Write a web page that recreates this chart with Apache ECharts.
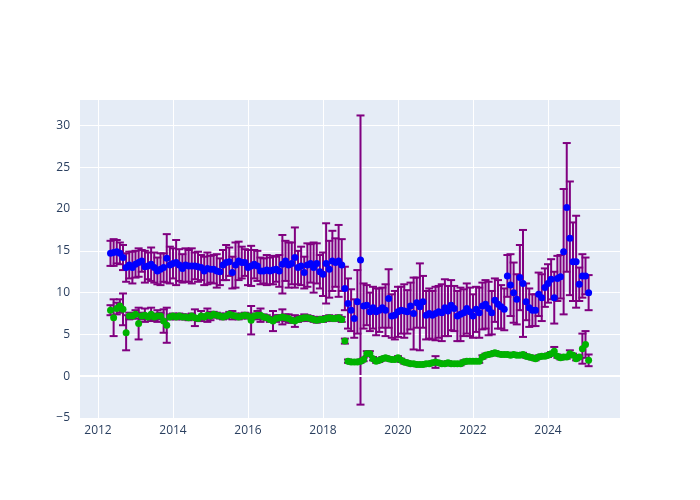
<!DOCTYPE html>
<html><head><meta charset="utf-8">
<script src="https://cdn.jsdelivr.net/npm/echarts@6/dist/echarts.min.js"></script>
<style>html,body{margin:0;padding:0;background:#fff}#chart{width:700px;height:500px}</style>
</head><body><div id="chart"></div>
<script>
const dates = [
"2012-05","2012-06","2012-07","2012-08","2012-09","2012-10","2012-11","2012-12",
"2013-01","2013-02","2013-03","2013-04","2013-05","2013-06","2013-07","2013-08","2013-09","2013-10","2013-11","2013-12",
"2014-01","2014-02","2014-03","2014-04","2014-05","2014-06","2014-07","2014-08","2014-09","2014-10","2014-11","2014-12",
"2015-01","2015-02","2015-03","2015-04","2015-05","2015-06","2015-07","2015-08","2015-09","2015-10","2015-11","2015-12",
"2016-01","2016-02","2016-03","2016-04","2016-05","2016-06","2016-07","2016-08","2016-09","2016-10","2016-11","2016-12",
"2017-01","2017-02","2017-03","2017-04","2017-05","2017-06","2017-07","2017-08","2017-09","2017-10","2017-11","2017-12",
"2018-01","2018-02","2018-03","2018-04","2018-05","2018-06","2018-07","2018-08","2018-09","2018-10","2018-11","2018-12",
"2019-01","2019-02","2019-03","2019-04","2019-05","2019-06","2019-07","2019-08","2019-09","2019-10","2019-11","2019-12",
"2020-01","2020-02","2020-03","2020-04","2020-05","2020-06","2020-07","2020-08","2020-09","2020-10","2020-11","2020-12",
"2021-01","2021-02","2021-03","2021-04","2021-05","2021-06","2021-07","2021-08","2021-09","2021-10","2021-11","2021-12",
"2022-01","2022-02","2022-03","2022-04","2022-05","2022-06","2022-07","2022-08","2022-09","2022-10","2022-11","2022-12",
"2023-01","2023-02","2023-03","2023-04","2023-05","2023-06","2023-07","2023-08","2023-09","2023-10","2023-11","2023-12",
"2024-01","2024-02","2024-03","2024-04","2024-05","2024-06","2024-07","2024-08","2024-09","2024-10","2024-11","2024-12",
"2025-01","2025-02"
];

const blueValues = [
14.7,14.8,14.9,14.7,14.2,13.0,13.3,13.0,13.4,13.6,13.8,13.1,
13.2,13.4,13.0,12.6,12.8,13.0,14.1,13.3,13.5,13.6,13.3,12.9,
13.3,13.2,13.2,13.2,13.1,13.0,12.6,12.9,12.8,12.8,12.6,12.5,
13.3,13.6,13.7,12.4,13.3,13.8,13.6,13.6,13.0,13.2,13.4,13.2,
12.6,12.6,12.7,12.6,12.7,12.8,12.6,13.4,13.8,13.3,13.5,14.2,
13.0,13.2,12.4,13.3,13.5,13.0,13.5,12.5,12.2,13.5,12.8,13.8,
13.6,13.8,13.3,10.5,8.7,7.9,6.9,8.9,13.9,8.4,8.5,7.7,
8.2,7.7,7.9,8.2,7.9,9.3,7.2,7.3,7.7,7.9,7.8,7.7,
8.4,7.5,8.8,8.3,8.9,7.3,7.5,7.3,7.5,7.7,7.6,8.2,
7.8,8.5,8.1,7.2,7.4,7.6,8.1,7.7,7.2,8.0,7.6,8.4,
8.6,8.1,7.6,9.1,8.6,8.3,8.0,12.0,10.9,10.0,9.2,11.8,
11.1,8.9,8.2,7.9,7.9,9.8,9.4,10.6,11.1,11.6,9.4,11.7,
11.9,14.9,20.2,16.5,13.7,13.7,11.0,12.0,12.0,10.0
];

const blueErrors = [
1.5,1.6,1.4,1.3,1.5,1.7,1.6,1.9,1.6,1.7,1.3,1.9,
1.6,2.0,1.8,1.6,1.9,1.7,2.9,2.2,1.8,2.7,1.9,1.7,
2.0,1.9,2.1,1.6,1.8,1.5,1.7,1.9,1.6,1.7,2.0,1.6,
1.8,2.1,1.7,1.9,2.7,2.3,1.9,1.6,2.1,2.4,1.7,1.8,
1.6,1.5,1.8,1.6,1.7,1.5,1.9,3.5,2.4,2.7,2.5,3.6,
2.0,2.3,1.9,2.6,2.3,3.0,2.4,2.0,2.6,4.8,3.4,3.6,
2.9,4.3,3.1,2.6,3.0,2.5,2.3,3.8,17.3,2.7,2.4,2.3,
2.5,2.8,2.6,2.4,3.1,3.5,2.6,2.9,3.0,2.8,3.2,2.6,
2.8,4.3,3.0,5.2,3.1,2.9,3.0,2.9,3.2,3.1,3.4,3.4,
3.0,3.0,2.7,3.0,3.2,2.8,3.0,2.9,2.6,2.7,3.0,2.8,
2.9,3.2,2.6,2.6,2.9,2.6,2.5,2.5,3.7,3.6,3.0,3.9,
6.4,2.2,2.3,1.9,1.9,2.6,2.8,2.3,2.3,2.4,3.1,2.7,
2.6,7.5,7.7,6.8,4.7,5.5,2.0,2.6,2.2,2.1
];

const greenValues = [
7.9,7.0,8.1,8.4,8.0,5.2,7.2,7.2,7.4,6.3,7.2,7.3,
7.1,7.4,7.1,7.2,7.2,6.6,6.1,7.1,7.2,7.1,7.2,7.1,
7.1,7.0,7.2,7.0,6.9,7.2,7.1,7.3,7.2,7.4,7.3,7.2,
7.1,7.2,7.4,7.3,7.2,7.1,7.2,7.3,7.2,6.7,7.2,7.3,
7.3,7.1,7.0,6.8,6.6,6.9,7.0,7.1,7.0,6.9,6.7,6.6,
6.8,6.9,7.0,7.0,6.9,6.8,6.7,6.8,6.8,6.9,7.0,6.9,
6.9,7.0,6.8,4.2,1.8,1.7,1.7,1.7,1.8,2.0,2.7,2.7,
2.1,1.8,1.9,2.1,2.2,2.1,2.0,2.0,2.2,1.9,1.7,1.6,
1.5,1.5,1.4,1.4,1.4,1.5,1.5,1.6,1.7,1.6,1.5,1.5,
1.6,1.5,1.5,1.5,1.5,1.7,1.8,1.8,1.8,1.8,1.8,2.3,
2.5,2.6,2.7,2.8,2.7,2.6,2.6,2.6,2.5,2.6,2.5,2.5,
2.6,2.4,2.3,2.2,2.1,2.3,2.4,2.4,2.5,2.7,3.0,2.4,
2.2,2.3,2.3,2.7,2.5,2.1,2.3,3.3,3.8,1.9
];

const greenErrors = [
0.6,2.2,0.7,0.8,1.9,2.1,0.4,0.3,0.5,1.9,0.4,0.8,
0.3,0.8,0.4,0.7,0.4,1.4,2.1,0.3,0.3,0.3,0.3,0.3,
0.3,0.3,0.3,1.0,0.3,0.6,0.3,0.8,0.5,0.3,0.3,0.3,
0.3,0.3,0.3,0.5,0.3,0.3,0.3,0.3,0.3,1.7,0.3,0.5,
0.8,0.3,0.3,0.3,1.2,0.4,0.3,0.9,0.4,0.5,0.3,0.7,
0.3,0.3,0.4,0.3,0.3,0.3,0.3,0.3,0.3,0.3,0.3,0.3,
0.3,0.3,0.3,0.3,0.2,0.2,0.2,0.2,0.2,0.2,0.3,0.3,
0.2,0.2,0.2,0.2,0.2,0.2,0.2,0.2,0.2,0.2,0.2,0.2,
0.2,0.2,0.2,0.2,0.2,0.2,0.2,0.2,0.7,0.2,0.2,0.2,
0.2,0.2,0.2,0.2,0.2,0.2,0.2,0.2,0.2,0.2,0.2,0.2,
0.2,0.2,0.2,0.2,0.2,0.2,0.2,0.2,0.2,0.2,0.2,0.2,
0.2,0.2,0.2,0.2,0.2,0.2,0.2,0.2,0.2,0.2,0.5,0.2,
0.2,0.2,0.2,0.4,0.2,0.2,0.2,1.8,1.6,0.7
];

const xTickValues = [2012, 2014, 2016, 2018, 2020, 2022, 2024];
const yTickValues = [-5, 0, 5, 10, 15, 20, 25, 30];

const fontFamily = '"Open Sans", "Noto Sans", sans-serif';
const textColor = '#2a3f5f';
const errColor = '#800080';

// convert "YYYY-MM" to a decimal year (first day of the month)
function toYear(s) {
  const p = s.split('-');
  return Number(p[0]) + (Number(p[1]) - 1) / 12;
}
const xs = dates.map(toYear);

function errorBars(params, api) {
  const x = api.value(0), y = api.value(1), e = api.value(2);
  const top = api.coord([x, y + e]);
  const bot = api.coord([x, y - e]);
  const hw = 4;
  const style = { stroke: errColor, lineWidth: 2 };
  return {
    type: 'group',
    children: [
      { type: 'line', shape: { x1: top[0], y1: top[1], x2: bot[0], y2: bot[1] }, style: style },
      { type: 'line', shape: { x1: top[0] - hw, y1: top[1], x2: top[0] + hw, y2: top[1] }, style: style },
      { type: 'line', shape: { x1: bot[0] - hw, y1: bot[1], x2: bot[0] + hw, y2: bot[1] }, style: style }
    ]
  };
}

const blueErrData = xs.map((x, i) => [x, blueValues[i], blueErrors[i]]);
const greenErrData = xs.map((x, i) => [x, greenValues[i], greenErrors[i]]);
const bluePts = xs.map((x, i) => [x, blueValues[i]]);
const greenPts = xs.map((x, i) => [x, greenValues[i]]);

const chart = echarts.init(document.getElementById('chart'), null, { renderer: 'canvas' });
chart.setOption({
  animation: false,
  backgroundColor: '#ffffff',
  textStyle: { fontFamily: fontFamily },
  grid: { left: 80, right: 80, top: 100, bottom: 82, show: true, backgroundColor: '#E5ECF6', borderWidth: 0, containLabel: false },
  xAxis: {
    type: 'value',
    min: 2011.52,
    max: 2025.92,
    axisLine: { show: false },
    axisTick: { show: false, customValues: xTickValues },
    axisLabel: {
      customValues: xTickValues,
      color: textColor, fontSize: 12, fontFamily: fontFamily, margin: 7,
      formatter: function (v) { return String(v); }
    },
    splitLine: { show: true, lineStyle: { color: '#ffffff', width: 1 } }
  },
  yAxis: {
    type: 'value',
    min: -5,
    max: 33.05,
    axisLine: { show: false },
    axisTick: { show: false, customValues: yTickValues },
    axisLabel: {
      customValues: yTickValues,
      color: textColor, fontSize: 12, fontFamily: fontFamily, margin: 10,
      formatter: function (v) { return String(v).replace('-', '\u2212'); }
    },
    splitLine: { show: true, lineStyle: { color: '#ffffff', width: 1 } }
  },
  series: [
    {
      type: 'line', data: [], z: 1, silent: true,
      markLine: { silent: true, symbol: 'none', label: { show: false },
        lineStyle: { color: '#ffffff', width: 2, type: 'solid' }, data: [{ yAxis: 0 }] }
    },
    { type: 'custom', renderItem: errorBars, data: blueErrData, encode: { x: 0, y: 1 }, silent: true },
    { type: 'scatter', data: bluePts, symbol: 'circle', symbolSize: 7, itemStyle: { color: '#0000ff', opacity: 1 } },
    { type: 'custom', renderItem: errorBars, data: greenErrData, encode: { x: 0, y: 1 }, silent: true },
    { type: 'scatter', data: greenPts, symbol: 'circle', symbolSize: 7, itemStyle: { color: '#00b300', opacity: 1 } }
  ]
});
</script>
</body></html>
